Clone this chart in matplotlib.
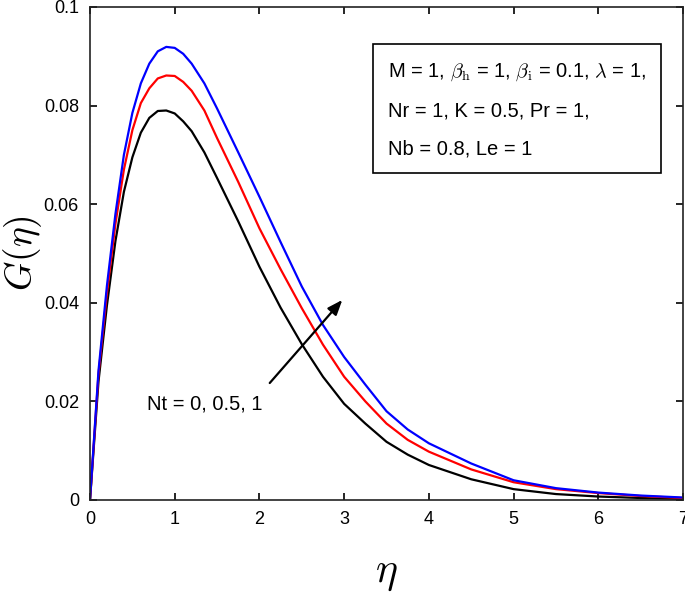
import matplotlib
matplotlib.use("Agg")
import matplotlib.pyplot as plt

plt.rcParams['font.family'] = ['Liberation Sans Narrow', 'Liberation Sans', 'DejaVu Sans']
plt.rcParams['mathtext.fontset'] = 'cm'

# G(eta) profiles, Nt = 0, 0.5, 1
eta = [0, 0.1, 0.2, 0.3, 0.4, 0.5, 0.6, 0.7, 0.8, 0.9, 1.0, 1.1, 1.2, 1.35, 1.5,
       1.75, 2.0, 2.25, 2.5, 2.75, 3.0, 3.25, 3.5, 3.75, 4.0, 4.5, 5.0, 5.5, 6.0, 6.5, 7.0]
g_nt0 = [0, 0.0240, 0.0395, 0.0525, 0.0625, 0.0695, 0.0745, 0.0775, 0.0789, 0.0790,
         0.0784, 0.0768, 0.0748, 0.0705, 0.0653, 0.0565, 0.0473, 0.0390, 0.0316, 0.0250,
         0.0195, 0.0155, 0.0118, 0.0092, 0.0071, 0.0042, 0.0022, 0.0012, 0.0007, 0.0004, 0.0002]
g_nt05 = [0, 0.0255, 0.0420, 0.0560, 0.0670, 0.0750, 0.0805, 0.0835, 0.0855, 0.0861,
          0.0860, 0.0848, 0.0830, 0.0790, 0.0734, 0.0645, 0.0551, 0.0468, 0.0389, 0.0315,
          0.0250, 0.0200, 0.0155, 0.0122, 0.0098, 0.0062, 0.0036, 0.0022, 0.0014, 0.0008, 0.0004]
g_nt1 = [0, 0.0262, 0.0435, 0.0580, 0.0700, 0.0785, 0.0845, 0.0885, 0.0910, 0.0919,
         0.0917, 0.0905, 0.0885, 0.0845, 0.0794, 0.0705, 0.0615, 0.0523, 0.0433, 0.0355,
         0.0290, 0.0234, 0.0180, 0.0143, 0.0115, 0.0074, 0.0040, 0.0024, 0.0015, 0.0009, 0.0005]

xticks = [0, 1, 2, 3, 4, 5, 6, 7]
yticks = [0, 0.02, 0.04, 0.06, 0.08, 0.1]
ytick_labels = ['0', '0.02', '0.04', '0.06', '0.08', '0.1']

fig = plt.figure(figsize=(6.85, 5.95), dpi=100)
ax = fig.add_axes([0.1314, 0.1597, 0.8657, 0.8286])

ax.plot(eta, g_nt0, color='black', lw=1.6)
ax.plot(eta, g_nt05, color='red', lw=1.6)
ax.plot(eta, g_nt1, color='blue', lw=1.6)

ax.set_xlim(0, 7)
ax.set_ylim(0, 0.1)
ax.set_xticks(xticks)
ax.set_yticks(yticks)
ax.set_yticklabels(ytick_labels)
ax.tick_params(direction='in', length=5, width=1.2, top=True, right=True,
               labelsize=13, pad=8)
for s in ax.spines.values():
    s.set_linewidth(1.2)
    s.set_color('#222222')

ax.set_xlabel(r'$\eta$', fontsize=30, labelpad=18)
ax.set_ylabel(r'$G(\eta)$', fontsize=27)
ax.yaxis.set_label_coords(-0.078, 0.5)

props = dict(boxstyle='square,pad=0.75', facecolor='white', edgecolor='black', lw=1.2)
ax.text(3.52, 0.0792,
        'M = 1, $\\beta_{\\rm h}$ = 1, $\\beta_{\\rm i}$ = 0.1, $\\lambda$ = 1,\n'
        'Nr = 1, K = 0.5, Pr = 1,\n'
        'Nb = 0.8, Le = 1',
        fontsize=14.5, va='center', ha='left', linespacing=2.25, bbox=props)

ax.annotate('', xy=(3.0, 0.041), xytext=(2.1, 0.0233),
            arrowprops=dict(arrowstyle='-|>,head_length=0.9,head_width=0.35',
                            color='black', lw=1.6))
ax.text(1.36, 0.0195, 'Nt = 0, 0.5, 1', fontsize=14.5, ha='center', va='center')

fig.savefig('out.png', dpi=100)
